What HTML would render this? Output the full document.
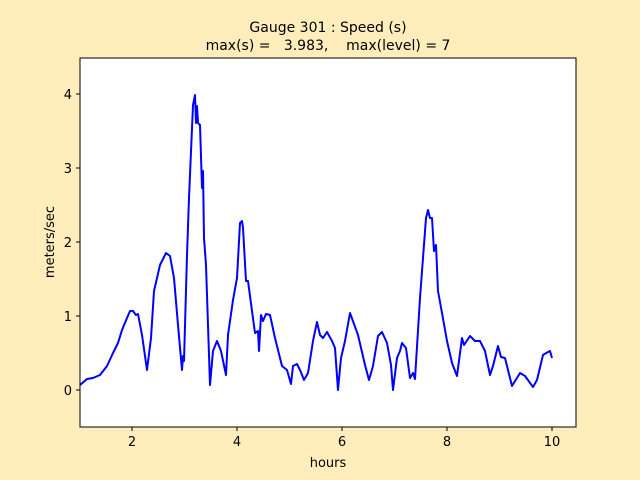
<!DOCTYPE html>
<html><head><meta charset="utf-8"><style>html,body{margin:0;padding:0;overflow:hidden;background:#ffedbb;width:640px;height:480px}svg{display:block}</style></head><body>
<svg width="640" height="480" xmlns="http://www.w3.org/2000/svg" font-family="DejaVu Sans, sans-serif">
<rect width="640" height="480" fill="#ffedbb"/>
<rect x="80" y="58" width="496" height="369" fill="#fff"/>
<polyline fill="none" stroke="#0000ff" stroke-width="2" stroke-linejoin="round" points="80,385 87,379 93,378 100,375 107,366 113,353 118,343 122,330 127,318 130,311 133,311 136,315 138,314 142,335 147,370 151,338 154,291 160,265 166,253 170,256 174,278 178,325 182,370 183,356 184,361 187,255 189,198 193,105 195,95 196,123 197,106 198,123 200,125 202,188 203,171 204,238 206,265 210,385 213,351 217,341 221,351 226,375 228,335 233,300 237,278 240,223 242,221 243,228 246,281 248,281 252,311 255,333 258,331 259,351 261,315 263,321 266,314 270,315 275,338 282,366 287,370 291,384 293,366 297,364 300,370 304,380 308,373 313,341 317,322 320,335 323,338 327,332 332,341 335,348 338,390 341,358 345,341 350,313 358,335 365,365 369,380 373,366 378,336 382,332 387,343 391,365 393,390 397,358 400,351 402,343 406,348 410,378 413,373 415,379 420,298 426,218 428,210 430,218 432,218 434,251 436,245 438,291 442,313 447,341 452,363 457,376 462,338 464,345 470,336 475,341 480,341 485,351 490,375 493,366 498,346 501,357 505,358 512,386 520,373 525,376 533,387 537,380 543,355 548,352 550,351 552,358"/>
<rect x="80" y="58" width="496" height="369" fill="none" stroke="#000" stroke-width="1"/>
<g stroke="#000">
<line x1="132" y1="427" x2="132" y2="431"/><line x1="237" y1="427" x2="237" y2="431"/><line x1="342" y1="427" x2="342" y2="431"/><line x1="447" y1="427" x2="447" y2="431"/><line x1="552" y1="427" x2="552" y2="431"/>
<line x1="76" y1="390" x2="80" y2="390"/><line x1="76" y1="316" x2="80" y2="316"/><line x1="76" y1="242" x2="80" y2="242"/><line x1="76" y1="168" x2="80" y2="168"/><line x1="76" y1="94" x2="80" y2="94"/>
</g>
<g font-size="13" text-anchor="middle" fill="#000">
<text x="132" y="446">2</text><text x="237" y="446">4</text><text x="342" y="446">6</text><text x="447" y="446">8</text><text x="552" y="446">10</text>
</g>
<g font-size="13" text-anchor="end" fill="#000">
<text x="72" y="395">0</text><text x="72" y="321">1</text><text x="72" y="247">2</text><text x="72" y="173">3</text><text x="72" y="99">4</text>
</g>
<text x="328" y="467" font-size="13" text-anchor="middle">hours</text>
<text transform="translate(54,242) rotate(-90)" font-size="13" text-anchor="middle">meters/sec</text>
<text x="328" y="32" font-size="14" text-anchor="middle">Gauge 301 : Speed (s)</text>
<text x="328" y="50" font-size="14" text-anchor="middle" xml:space="preserve">max(s) =   3.983,    max(level) = 7</text>
</svg>
</body></html>
